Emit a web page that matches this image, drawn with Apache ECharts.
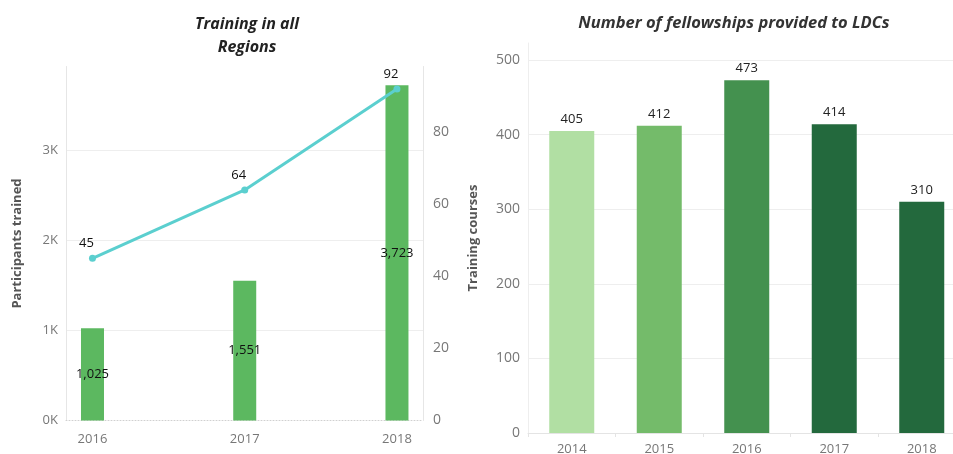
<!DOCTYPE html>
<html>
<head>
<meta charset="utf-8">
<script src="https://cdn.jsdelivr.net/npm/echarts@6/dist/echarts.min.js"></script>
<style>
  html, body { margin: 0; padding: 0; background: #fff; }
  #chart { width: 953px; height: 454px; }
</style>
</head>
<body>
<div id="chart"></div>
<script>
// Training in all regions
const trainingYears = ['2016', '2017', '2018'];
const participants = [1025, 1551, 3723];
const trainingCourses = [45, 64, 92];

// Fellowships provided to LDCs
const fellowshipYears = ['2014', '2015', '2016', '2017', '2018'];
const fellowships = [405, 412, 473, 414, 310];
const fellowshipColors = ['#b1dfa3', '#74bb6a', '#44914f', '#23693d', '#23693d'];

const FONT = '"Open Sans", "Segoe UI", sans-serif';
const AXIS_GREY = '#777';
const GRID_GREY = '#eeeeee';

// Index-based x positions so the three years sit at their own spots inside the frame
const idx = trainingYears.map((_, i) => i);

const chart = echarts.init(document.getElementById('chart'));

chart.setOption({
  animation: false,
  backgroundColor: '#fff',
  textStyle: { fontFamily: FONT },
  title: [
    {
      text: 'Training in all\nRegions',
      left: 242, top: 8, textAlign: 'center',
      textStyle: { fontFamily: FONT, fontSize: 16, fontWeight: 'bold', fontStyle: 'italic', color: '#222', lineHeight: 23 }
    },
    {
      text: 'Number of fellowships provided to LDCs',
      left: 729, top: 10, textAlign: 'center',
      textStyle: { fontFamily: FONT, fontSize: 16.5, fontWeight: 'bold', fontStyle: 'italic', color: '#333' }
    }
  ],
  grid: [
    { left: 66, width: 357, top: 66.5, height: 354, outerBoundsMode: 'none' },
    { left: 528, width: 437.5, top: 43, bottom: 21, outerBoundsMode: 'none' }
  ],
  xAxis: [
    {
      gridIndex: 0, type: 'value',
      min: -0.174, max: 2.171,
      axisLine: { show: true, onZero: false, lineStyle: { color: '#d0d0d0', type: [1, 2] } },
      axisTick: { show: false },
      splitLine: { show: false },
      axisLabel: {
        customValues: idx,
        formatter: v => trainingYears[Math.round(v)],
        color: AXIS_GREY, fontSize: 13, margin: 12
      }
    },
    {
      gridIndex: 1, type: 'category', data: fellowshipYears,
      axisLine: { show: true, lineStyle: { color: '#e4e4e4' } },
      axisTick: { show: true, length: 4, lineStyle: { color: '#e4e4e4' } },
      axisLabel: { color: AXIS_GREY, fontSize: 13, margin: 10 }
    }
  ],
  yAxis: [
    {
      gridIndex: 0, type: 'value', min: 0, max: 3930, interval: 1000,
      name: 'Participants trained', nameLocation: 'middle', nameGap: 42,
      nameTextStyle: { color: '#555', fontWeight: 'bold', fontSize: 13, fontFamily: FONT },
      axisLine: { show: true, onZero: false, lineStyle: { color: '#e6e6e6' } },
      axisTick: { show: false },
      axisLabel: {
        formatter: v => (v / 1000) + 'K',
        showMaxLabel: false, color: AXIS_GREY, fontSize: 13, margin: 8
      },
      splitLine: { show: true, showMaxLine: false, showMinLine: false, lineStyle: { color: GRID_GREY } }
    },
    {
      gridIndex: 0, type: 'value', min: 0, max: 98.25, interval: 20, position: 'right',
      axisLine: { show: true, onZero: false, lineStyle: { color: '#e6e6e6' } },
      axisTick: { show: false },
      axisLabel: { showMaxLabel: false, color: AXIS_GREY, fontSize: 14, margin: 10 },
      splitLine: { show: false }
    },
    {
      gridIndex: 1, type: 'value', min: 0, max: 523, interval: 100,
      name: 'Training courses', nameLocation: 'middle', nameGap: 48,
      nameTextStyle: { color: '#555', fontWeight: 'bold', fontSize: 13, fontFamily: FONT },
      axisLine: { show: true, lineStyle: { color: '#eeeeee' } },
      axisTick: { show: false },
      axisLabel: { showMaxLabel: false, color: AXIS_GREY, fontSize: 14, margin: 8 },
      splitLine: { show: true, showMaxLine: false, showMinLine: false, lineStyle: { color: GRID_GREY } }
    }
  ],
  series: [
    {
      name: 'Participants trained', type: 'bar',
      xAxisIndex: 0, yAxisIndex: 0,
      data: participants.map((v, i) => [idx[i], v]),
      barWidth: 23,
      itemStyle: { color: '#5cb860' },
      label: {
        show: true, position: 'inside', color: '#111', fontSize: 13,
        formatter: p => p.value[1].toLocaleString('en-US')
      },
      z: 2
    },
    {
      name: 'Training courses', type: 'line',
      xAxisIndex: 0, yAxisIndex: 1,
      data: trainingCourses.map((v, i) => [idx[i], v]),
      lineStyle: { color: '#5bcfcf', width: 3 },
      itemStyle: { color: '#5bcfcf' },
      symbol: 'circle', symbolSize: 7,
      label: {
        show: true, position: 'top', distance: 5, offset: [-6, 0], color: '#111', fontSize: 13,
        formatter: p => p.value[1]
      },
      z: 3
    },
    {
      name: 'Fellowships', type: 'bar',
      xAxisIndex: 1, yAxisIndex: 2,
      data: fellowships.map((v, i) => ({ value: v, itemStyle: { color: fellowshipColors[i] } })),
      barWidth: 45,
      label: { show: true, position: 'top', distance: 5, color: '#222', fontSize: 13 }
    }
  ]
});
</script>
</body>
</html>
